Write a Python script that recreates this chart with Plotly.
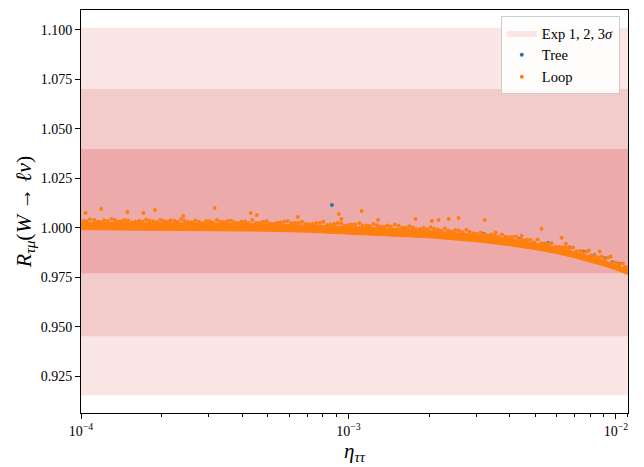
import plotly.graph_objects as go

# ---------------- data ----------------
# experimental bands (1, 2, 3 sigma) : [low, high]
band_1s = [0.9771, 1.0398]
band_2s = [0.9453, 1.0701]
band_3s = [0.9155, 1.1010]
band_x = [5e-5, 2e-2]

# dense core of the scan (Loop), lower and upper edges
core_eta = [1.0e-4, 2e-4, 3e-4, 5e-4, 7e-4, 1.0e-3, 1.5e-3, 2e-3, 3e-3, 4e-3,
            5e-3, 6e-3, 7e-3, 8e-3, 9e-3, 1.0e-2, 1.1e-2, 1.2e-2]
core_lo = [0.9991, 0.9989, 0.9987, 0.9983, 0.9978, 0.9969, 0.9959, 0.9950, 0.9930, 0.9910,
           0.9890, 0.9870, 0.9849, 0.9829, 0.9808, 0.9788, 0.9767, 0.9746]
core_hi = [1.0028, 1.0026, 1.0024, 1.0020, 1.0015, 1.0007, 0.9997, 0.9987, 0.9966, 0.9945,
           0.9924, 0.9902, 0.9880, 0.9858, 0.9836, 0.9814, 0.9792, 0.9770]

# scattered Loop points above the core (upper ragged edge + outliers)
loop_eta = [1.02e-4, 1.08e-4, 1.15e-4, 1.22e-4, 1.30e-4, 1.38e-4, 1.46e-4, 1.55e-4, 1.65e-4, 1.75e-4,
            1.86e-4, 1.98e-4, 2.10e-4, 2.23e-4, 2.37e-4, 2.52e-4, 2.68e-4, 2.85e-4, 3.03e-4, 3.22e-4,
            3.42e-4, 3.64e-4, 3.87e-4, 4.11e-4, 4.37e-4, 4.65e-4, 4.94e-4, 5.25e-4, 5.58e-4, 5.93e-4,
            6.31e-4, 6.71e-4, 7.13e-4, 7.58e-4, 8.06e-4, 8.57e-4, 9.11e-4, 9.69e-4, 1.03e-3, 1.10e-3,
            1.17e-3, 1.24e-3, 1.32e-3, 1.40e-3, 1.49e-3, 1.59e-3, 1.69e-3, 1.79e-3, 1.91e-3, 2.03e-3,
            2.16e-3, 2.29e-3, 2.44e-3, 2.59e-3, 2.76e-3, 2.93e-3, 3.12e-3, 3.31e-3, 3.52e-3, 3.75e-3,
            3.98e-3, 4.23e-3, 4.50e-3, 4.79e-3, 5.09e-3, 5.41e-3, 5.75e-3, 6.12e-3, 6.50e-3, 6.91e-3,
            7.35e-3, 7.81e-3, 8.31e-3, 8.83e-3, 9.39e-3, 9.98e-3, 1.06e-2, 1.10e-2,
            # outliers
            1.04e-4, 1.19e-4, 1.49e-4, 1.71e-4, 1.89e-4, 2.41e-4, 3.16e-4, 4.31e-4, 4.54e-4, 6.47e-4,
            9.20e-4, 9.40e-4, 1.12e-3, 1.29e-3, 1.78e-3, 2.17e-3, 2.37e-3, 2.58e-3, 3.23e-3, 2.05e-3,
            3.55e-3, 4.44e-3, 5.27e-3, 6.26e-3, 6.50e-3, 7.91e-3, 8.69e-3, 9.55e-3]
loop_R = [1.0035, 1.0043, 1.0031, 1.0038, 1.0045, 1.0032, 1.0040, 1.0028, 1.0036, 1.0042,
          1.0033, 1.0041, 1.0029, 1.0036, 1.0043, 1.0030, 1.0037, 1.0025, 1.0033, 1.0039,
          1.0030, 1.0037, 1.0025, 1.0032, 1.0039, 1.0025, 1.0033, 1.0020, 1.0027, 1.0034,
          1.0024, 1.0031, 1.0018, 1.0025, 1.0031, 1.0017, 1.0024, 1.0011, 1.0017, 1.0023,
          1.0012, 1.0019, 1.0005, 1.0012, 1.0017, 1.0002, 1.0008, 0.9993, 0.9999, 1.0003,
          0.9992, 0.9997, 0.9982, 0.9987, 0.9990, 0.9973, 0.9977, 0.9962, 0.9965, 0.9967,
          0.9953, 0.9956, 0.9938, 0.9940, 0.9941, 0.9921, 0.9922, 0.9903, 0.9902, 0.9901,
          0.9883, 0.9881, 0.9859, 0.9856, 0.9851, 0.9825, 0.9820, 0.9800,
          1.0075, 1.0095, 1.0080, 1.0075, 1.0090, 1.0060, 1.0100, 1.0075, 1.0065, 1.0055,
          1.0070, 1.0045, 1.0085, 1.0040, 1.0045, 1.0040, 1.0045, 1.0050, 1.0040, 1.0035,
          0.9976, 0.9960, 0.9995, 0.9950, 0.9920, 0.9886, 0.9881, 0.9856]

# more Loop points filling between the core and the ragged edge
loop_eta2 = [1.05e-4, 1.12e-4, 1.18e-4, 1.26e-4, 1.34e-4, 1.42e-4, 1.50e-4, 1.60e-4, 1.70e-4, 1.80e-4,
             1.92e-4, 2.04e-4, 2.16e-4, 2.30e-4, 2.44e-4, 2.60e-4, 2.76e-4, 2.94e-4, 3.12e-4, 3.32e-4,
             3.53e-4, 3.75e-4, 3.99e-4, 4.24e-4, 4.51e-4, 4.79e-4, 5.09e-4, 5.41e-4, 5.75e-4, 6.12e-4,
             6.51e-4, 6.92e-4, 7.35e-4, 7.82e-4, 8.31e-4, 8.84e-4, 9.40e-4, 1.00e-3, 1.06e-3, 1.13e-3,
             1.20e-3, 1.28e-3, 1.36e-3, 1.44e-3, 1.54e-3, 1.64e-3, 1.74e-3, 1.85e-3, 1.97e-3, 2.09e-3,
             2.22e-3, 2.36e-3, 2.51e-3, 2.67e-3, 2.84e-3, 3.02e-3, 3.21e-3, 3.41e-3, 3.63e-3, 3.86e-3,
             4.10e-3, 4.36e-3, 4.64e-3, 4.94e-3, 5.25e-3, 5.58e-3, 5.93e-3, 6.31e-3, 6.70e-3, 7.13e-3,
             7.58e-3, 8.06e-3, 8.57e-3, 9.11e-3, 9.68e-3, 1.03e-2, 1.08e-2]
loop_R2 = [1.0033, 1.0039, 1.0030, 1.0035, 1.0040, 1.0033, 1.0037, 1.0031, 1.0031, 1.0037,
           1.0029, 1.0034, 1.0038, 1.0031, 1.0035, 1.0028, 1.0029, 1.0035, 1.0026, 1.0031,
           1.0035, 1.0028, 1.0031, 1.0025, 1.0025, 1.0031, 1.0022, 1.0026, 1.0031, 1.0023,
           1.0026, 1.0019, 1.0019, 1.0024, 1.0015, 1.0019, 1.0023, 1.0014, 1.0017, 1.0010,
           1.0009, 1.0013, 1.0004, 1.0007, 1.0010, 1.0001, 1.0002, 0.9994, 0.9992, 0.9996,
           0.9985, 0.9987, 0.9989, 0.9978, 0.9979, 0.9969, 0.9966, 0.9967, 0.9955, 0.9955,
           0.9954, 0.9942, 0.9940, 0.9927, 0.9922, 0.9920, 0.9905, 0.9902, 0.9898, 0.9882,
           0.9876, 0.9860, 0.9850, 0.9844, 0.9824, 0.9816, 0.9803]

# Tree points (mostly hidden under Loop)
tree_eta = [8.67e-4, 5.58e-3, 6.70e-3, 7.58e-3, 8.31e-3, 9.11e-3, 9.68e-3, 1.03e-2, 4.36e-3, 3.21e-3]
tree_R = [1.0115, 0.9924, 0.9901, 0.9879, 0.9862, 0.9847, 0.9827, 0.9819, 0.9945, 0.9969]

y_ticks = [0.925, 0.950, 0.975, 1.000, 1.025, 1.050, 1.075, 1.100]
x_ticks = [1e-4, 1e-3, 1e-2]
x_ticktext = ["10<sup>−4</sup>", "10<sup>−3</sup>", "10<sup>−2</sup>"]
x_minor = [m * d for d in (1e-4, 1e-3) for m in range(2, 10)] + [1.1e-2]

# ---------------- figure ----------------
C_3S, C_2S, C_1S = "#fbe6e6", "#f4cbcb", "#edaaab"
ORANGE, BLUE = "#ff7f0e", "#1f77b4"
FONT = "Liberation Serif"

fig = go.Figure()


def band_trace(b, color, name, show):
    return go.Scatter(
        x=[band_x[0], band_x[1], band_x[1], band_x[0], band_x[0]],
        y=[b[0], b[0], b[1], b[1], b[0]],
        fill="toself", fillcolor=color, mode="lines", line=dict(width=0, color=color),
        name=name, showlegend=show, hoverinfo="skip")


fig.add_trace(band_trace(band_3s, C_3S, "Exp 1, 2, 3<i>σ</i>", True))
fig.add_trace(band_trace(band_2s, C_2S, "2s", False))
fig.add_trace(band_trace(band_1s, C_1S, "1s", False))

fig.add_trace(go.Scatter(x=tree_eta, y=tree_R, mode="markers", name="Tree",
                         marker=dict(color=BLUE, size=4, line=dict(width=0))))

fig.add_trace(go.Scatter(x=core_eta + core_eta[::-1], y=core_lo + core_hi[::-1],
                         fill="toself", fillcolor=ORANGE, mode="lines",
                         line=dict(width=1, color=ORANGE), showlegend=False,
                         legendgroup="loop", hoverinfo="skip"))
fig.add_trace(go.Scatter(x=loop_eta2, y=loop_R2, mode="markers", showlegend=False,
                         legendgroup="loop", hoverinfo="skip",
                         marker=dict(color=ORANGE, size=4, line=dict(width=0))))
fig.add_trace(go.Scatter(x=loop_eta, y=loop_R, mode="markers", name="Loop", legendgroup="loop",
                         marker=dict(color=ORANGE, size=4, line=dict(width=0))))

fig.update_layout(
    width=644, height=467,
    margin=dict(l=81, r=16, t=9, b=49),
    plot_bgcolor="white", paper_bgcolor="white",
    font=dict(family=FONT, size=14, color="black"),
    showlegend=True,
    legend=dict(x=0.985, y=0.985, xanchor="right", yanchor="top",
                bgcolor="rgba(255,255,255,0.85)", bordercolor="#cccccc", borderwidth=1,
                font=dict(family=FONT, size=14.5), itemwidth=30, tracegroupgap=0),
)

fig.update_xaxes(
    type="log", range=[-4, -1.955],
    tickvals=x_ticks, ticktext=x_ticktext,
    ticks="outside", ticklen=5, tickwidth=1, tickcolor="black",
    minor=dict(tickvals=x_minor, ticks="outside", ticklen=3, tickwidth=1, tickcolor="black"),
    showline=True, linecolor="black", linewidth=1, mirror=True,
    showgrid=False, zeroline=False,
    tickfont=dict(family=FONT, size=14),
    title=dict(text="<i>η</i><sub><i>ττ</i></sub>", font=dict(family=FONT, size=21), standoff=5),
)
fig.update_yaxes(
    range=[0.9066, 1.1099],
    tickvals=y_ticks, tickformat=".3f",
    ticks="outside", ticklen=5, tickwidth=1, tickcolor="black",
    showline=True, linecolor="black", linewidth=1, mirror=True,
    showgrid=False, zeroline=False,
    tickfont=dict(family=FONT, size=14),
    title=dict(text="<i>R</i><sub><i>τμ</i></sub>(<i>W</i> → <i>ℓν</i>)",
               font=dict(family=FONT, size=22), standoff=3),
)

fig.write_html("out.html")
